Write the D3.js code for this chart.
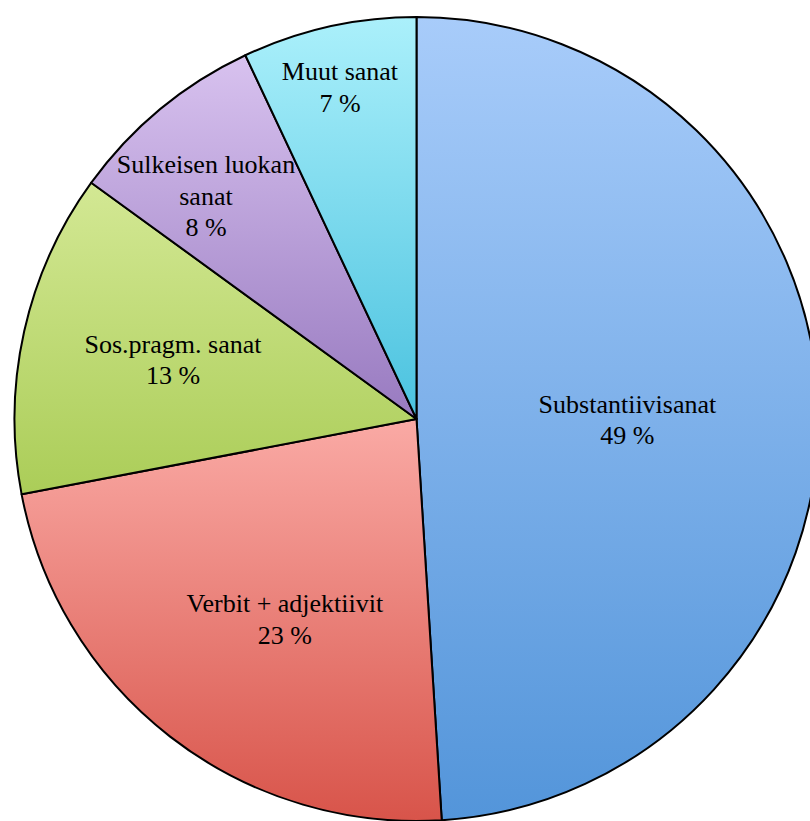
<!DOCTYPE html>
<html>
<head>
<meta charset="utf-8">
<script src="https://cdn.jsdelivr.net/npm/d3@7"></script>
<style>
  html, body { margin: 0; padding: 0; background: #ffffff; overflow: hidden; }
  svg { display: block; }
  text { font-family: "Liberation Serif", "Times New Roman", serif; }
</style>
</head>
<body>
<svg id="chart" width="810" height="821"></svg>
<script>
// Word-class shares (percent), clockwise from 12 o'clock
const categories = ["Substantiivisanat", "Verbit + adjektiivit", "Sos.pragm. sanat", "Sulkeisen luokan sanat", "Muut sanat"];
const labelLines = [["Substantiivisanat"], ["Verbit + adjektiivit"], ["Sos.pragm. sanat"], ["Sulkeisen luokan", "sanat"], ["Muut sanat"]];
const values = [49, 23, 13, 8, 7];

// Per-slice vertical gradient colours (top, bottom)
const gradTop = ["#a8ccfa", "#faaaa5", "#d3e894", "#d8c2ef", "#abf0fb"];
const gradBottom = ["#5395da", "#d8544a", "#abcd58", "#987ac0", "#4ac2df"];

// Label placement: radial factor and small offsets
const labelRadius = [0.525, 0.595, 0.622, 0.76, 0.85];
const labelNudge = [[0, 7.5], [15, 11], [0.5, -4.6], [-15.8, 12.1], [-2, 1.4]];

const cx = 416.5, cy = 419, R = 402;
const fontSize = 26, lineH = 31.5;

const svg = d3.select("#chart");
const defs = svg.append("defs");

values.forEach((v, i) => {
  const g = defs.append("linearGradient")
    .attr("id", "grad" + i)
    .attr("x1", 0).attr("y1", 0).attr("x2", 0).attr("y2", 1);
  g.append("stop").attr("offset", "0%").attr("stop-color", gradTop[i]);
  g.append("stop").attr("offset", "100%").attr("stop-color", gradBottom[i]);
});

const pie = d3.pie().sort(null).value(d => d)(values);
const arc = d3.arc().innerRadius(0).outerRadius(R);

const root = svg.append("g").attr("transform", `translate(${cx},${cy})`);

root.selectAll("path.slice")
  .data(pie)
  .join("path")
  .attr("class", "slice")
  .attr("d", arc)
  .attr("fill", (d, i) => `url(#grad${i})`)
  .attr("stroke", "#000")
  .attr("stroke-width", 2)
  .attr("stroke-linejoin", "round");

root.selectAll("text.lbl")
  .data(pie)
  .join("text")
  .attr("class", "lbl")
  .attr("text-anchor", "middle")
  .attr("font-size", fontSize)
  .attr("fill", "#000")
  .each(function (d, i) {
    const k = labelRadius[i] * R;
    const [px, py] = d3.arc().innerRadius(k).outerRadius(k).centroid(d);
    const x = px + labelNudge[i][0];
    const y = py + labelNudge[i][1];
    const lines = labelLines[i].concat([values[i] + " %"]);
    const first = y - (lines.length - 1) * lineH / 2 + fontSize * 0.34;
    const t = d3.select(this);
    lines.forEach((ln, j) => {
      t.append("tspan").attr("x", x).attr("y", first + j * lineH).text(ln);
    });
  });
</script>
</body>
</html>
